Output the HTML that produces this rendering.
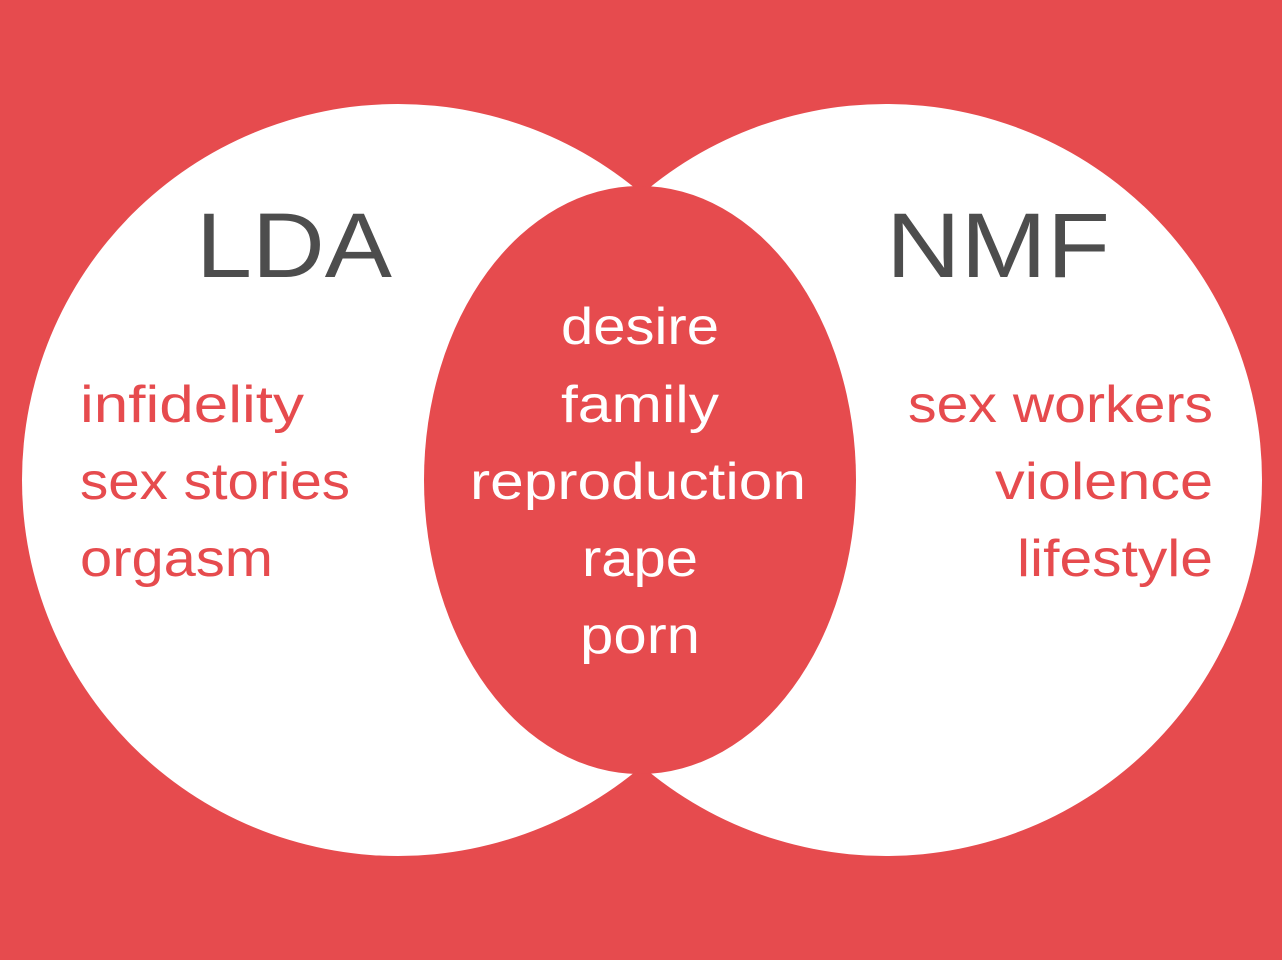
<!DOCTYPE html>
<html><head><meta charset="utf-8"><style>
html,body{margin:0;padding:0;background:#E64B4E;}
svg{display:block;}
text{font-family:"Liberation Sans",sans-serif;}
</style></head><body>
<svg width="1282" height="960" viewBox="0 0 1282 960" xmlns="http://www.w3.org/2000/svg">
<rect width="1282" height="960" fill="#E64B4E"/>
<circle cx="398" cy="480" r="376" fill="#fff"/>
<circle cx="886" cy="480" r="376" fill="#fff"/>
<ellipse cx="640" cy="480" rx="216" ry="294" fill="#E64B4E"/>
<text x="196" y="277" font-size="92" fill="#4d4d4d" textLength="196" lengthAdjust="spacingAndGlyphs">LDA</text>
<text x="886" y="277" font-size="92" fill="#4d4d4d" textLength="224" lengthAdjust="spacingAndGlyphs">NMF</text>
<g font-size="52" fill="#E64B4E">
<text x="80" y="422" textLength="224" lengthAdjust="spacingAndGlyphs">infidelity</text>
<text x="80" y="499" textLength="270" lengthAdjust="spacingAndGlyphs">sex stories</text>
<text x="80" y="576" textLength="193" lengthAdjust="spacingAndGlyphs">orgasm</text>
</g>
<g font-size="52" fill="#E64B4E" text-anchor="end">
<text x="1213" y="422" textLength="305" lengthAdjust="spacingAndGlyphs">sex workers</text>
<text x="1213" y="499" textLength="218" lengthAdjust="spacingAndGlyphs">violence</text>
<text x="1213" y="576" textLength="196" lengthAdjust="spacingAndGlyphs">lifestyle</text>
</g>
<g font-size="52" fill="#fff" text-anchor="middle">
<text x="640" y="344" textLength="158" lengthAdjust="spacingAndGlyphs">desire</text>
<text x="640" y="422" textLength="158" lengthAdjust="spacingAndGlyphs">family</text>
<text x="638" y="499" textLength="336" lengthAdjust="spacingAndGlyphs">reproduction</text>
<text x="640" y="576" textLength="116" lengthAdjust="spacingAndGlyphs">rape</text>
<text x="640" y="653" textLength="120" lengthAdjust="spacingAndGlyphs">porn</text>
</g>
</svg>
</body></html>
